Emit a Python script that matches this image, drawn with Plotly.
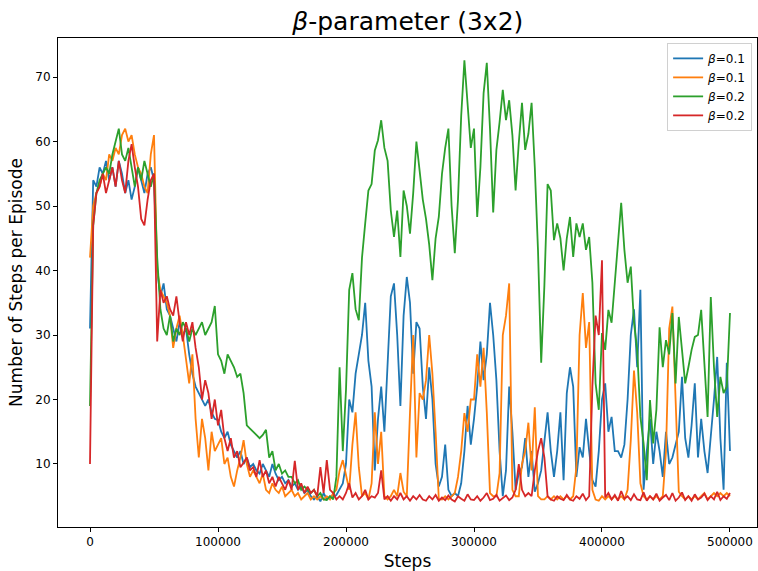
import plotly.graph_objects as go

steps = list(range(0, 500001, 2500))

beta_labels = ["<i>β</i>=0.1", "<i>β</i>=0.1", "<i>β</i>=0.2", "<i>β</i>=0.2"]
colors = ["#1f77b4", "#ff7f0e", "#2ca02c", "#d62728"]

blue = [
    31, 54, 53, 56, 55, 57, 54, 56, 53, 57,
    55, 52, 54, 51, 53, 56, 54, 52, 55, 56,
    54, 40, 36, 38, 34, 33, 31, 29, 32, 30,
    31, 27, 24, 22, 21, 20, 19, 20, 18, 17,
    16.8, 15, 14, 15, 13, 12, 11, 12, 10, 11,
    9.5, 10, 9, 8.5, 10, 9, 8, 10, 8.5, 7.5,
    8, 7, 7.5, 6.5, 7, 6, 6.5, 5.5, 6, 5,
    4.5, 5, 4.2, 5.5, 4.5, 5, 4.8, 5.2, 6, 7,
    10, 20, 18, 24, 27, 30, 35, 26, 22, 9,
    17, 22, 15, 25, 36, 38, 30, 19, 33, 39,
    35, 24, 32, 31, 22, 17, 25, 20, 10, 6.5,
    8, 13, 6, 5, 5.5, 5, 7, 12, 19, 13,
    17, 22, 29, 23, 27, 35, 30, 23, 12, 5,
    9, 22, 15, 6, 8.6, 9.5, 14, 8, 12, 5.7,
    7, 9, 14, 18, 12, 8, 12, 18, 7.5, 21,
    25, 22, 8, 12.6, 11, 17, 12, 7.5, 6.5, 12,
    20, 22.5, 15, 17.3, 12, 12, 11, 13, 20, 30,
    34, 25, 37, 6, 12, 17, 10, 15, 12, 8,
    15, 10, 11, 13, 15, 23.5, 14, 11, 16, 22.5,
    11, 17, 12, 8.6, 14, 20, 26.6, 14, 6, 25.7,
    12,
]

orange = [
    42, 50, 52, 53, 55, 54, 58, 57, 59, 58,
    61, 62, 60, 61, 58, 56, 55, 53, 52, 58,
    61, 40, 37, 36, 35, 33, 28, 31, 33, 30,
    26, 22.5, 27, 17, 11, 17, 14, 9, 15, 12,
    13, 14, 10, 11, 8, 6.5, 9, 11, 13.7, 10,
    8, 9, 8, 7, 8.5, 6, 5.5, 7, 6, 5.5,
    6.5, 5, 5.5, 6, 5, 5.5, 4.5, 5, 5.5, 4.5,
    5, 4.5, 5, 4.5, 5, 4.5, 5.5, 6, 9, 10.6,
    8, 6, 13, 18, 9.5, 5, 5.5, 4.5, 7, 18,
    10, 15, 5, 4.5, 5, 6, 5, 8.6, 5.7, 5,
    18, 30, 11, 21, 20, 23, 30, 24, 15, 4.6,
    4.5, 5, 4.5, 5, 5.5, 8, 12, 17.9, 15, 20,
    20, 27, 22, 28, 18, 5.5, 5, 5, 8.6, 30,
    33, 38, 6, 5, 5, 10, 12, 16.4, 9, 18.8,
    5, 4.5, 4.5, 5, 4.5, 5, 4.5, 5, 4.5, 5,
    4.5, 5, 9.5, 30, 36.5, 28, 32, 6, 4.5, 4.3,
    5, 4.5, 5, 4.5, 5, 4.5, 5, 4.5, 6, 13.7,
    24.5, 18, 7, 5, 4.5, 5, 4.5, 5, 4.5, 5,
    12, 31, 34.4, 20, 5.7, 5, 4.5, 5, 4.5, 5,
    4.5, 5, 5.5, 4.5, 5, 5.5, 5, 5.5, 5, 5.5,
    5,
]

green = [
    19, 47, 52, 54, 55, 56, 55, 58, 60, 62,
    58, 57, 59, 56, 53, 56, 54, 57, 55, 53,
    55, 42, 34, 31, 30, 33, 29, 31, 30, 32,
    31, 29, 31, 30, 31, 32, 30, 31, 32, 34.5,
    27, 26, 24, 27, 26, 25, 23.5, 24, 21, 16,
    15.5, 15, 14.5, 14, 14.5, 15.3, 11, 12, 9, 10,
    8.5, 9, 8, 8, 7, 7.5, 6, 6.5, 6, 5.5,
    6, 5, 5.5, 4.5, 4.4, 5, 4.5, 8, 25, 12,
    21.5, 37, 39.6, 34, 32.3, 42, 47.3, 52.4, 53.4, 58.6,
    60.2, 63.3, 59, 57, 49.3, 45.2, 49.3, 42.1, 52.4, 50,
    45.7, 52, 60, 55, 51, 48, 44, 38.5, 45, 48.3,
    55, 59, 62, 50, 42.7, 51, 64, 72.6, 66, 59,
    62, 48.3, 56, 67.5, 72.2, 62, 49, 58.7, 63, 68,
    63.3, 66.4, 61, 52.4, 59.8, 66, 58.7, 61.2, 66, 56,
    43.2, 25.7, 37.7, 53.4, 52.4, 44.7, 47.3, 45, 40, 45,
    48.3, 42.1, 47.3, 45.2, 47.3, 43.2, 45.2, 38.1, 22.5, 18.4,
    30.3, 27.7, 33.9, 31.9, 38.1, 44.7, 50.5, 43.2, 38.1, 40.6,
    31.9, 27.7, 17.3, 13.2, 7.5, 19.9, 13.2, 18.4, 31.2, 25,
    29.2, 27, 33.4, 22.5, 32.8, 27.7, 22.5, 25, 27.7, 29.7,
    30, 33.9, 25, 17.3, 35.9, 25, 17.3, 23.5, 21, 22,
    33.4,
]

red = [
    10, 47, 52, 53, 55, 52, 54, 56, 53, 57,
    54, 52, 57, 59.6, 56, 53, 48, 47, 51, 54,
    55, 29, 37, 35, 36, 34, 33, 36, 32, 29,
    32, 30, 32, 28, 25, 20, 23, 21, 17, 20,
    16, 18.4, 14, 12, 14, 11, 12, 9.5, 10.2, 11,
    9, 9.5, 8, 10.6, 8, 9, 7, 8, 6.5, 8,
    7, 6, 7.5, 6, 10.5, 6, 7, 5.5, 6.5, 5.5,
    6, 5, 9.5, 5.5, 10.6, 6, 5.5, 4.5, 5, 4.5,
    5.5, 7, 4.8, 5.5, 4.5, 5, 6, 4.5, 5, 4.8,
    5.5, 9, 4.5, 5, 4.3, 5, 4.5, 5.5, 4.5, 5,
    4.3, 5, 4.5, 5.2, 4.5, 4.3, 5, 4.5, 5.2, 4.3,
    4.8, 4.4, 5.1, 4.5, 4.2, 5, 4.6, 4.3, 5.3, 4.5,
    4.4, 5, 4.3, 4.8, 5.5, 4.4, 4.6, 5.2, 4.3, 4.7,
    5.1, 4.4, 4.8, 6, 10, 6, 5, 5.5, 5, 9,
    12, 14, 11, 5, 4.5, 4.3, 5, 4.6, 4.4, 5.2,
    4.5, 4.3, 5, 4.6, 5.4, 4.4, 5, 22, 33, 30,
    41.6, 4.8, 5.5, 4.5, 5.2, 4.3, 5.8, 4.6, 5, 4.4,
    5.3, 4.5, 4.4, 5.6, 4.3, 5, 4.5, 5.4, 4.3, 4.8,
    5.2, 4.4, 5.5, 4.3, 4.8, 5.6, 4.4, 5, 4.3, 5.3,
    4.5, 4.8, 5.4, 4.4, 5, 4.5, 5.7, 4.4, 5, 4.6,
    5.5,
]

x_ticks = [0, 100000, 200000, 300000, 400000, 500000]
x_tick_labels = ["0", "100000", "200000", "300000", "400000", "500000"]
y_ticks = [10, 20, 30, 40, 50, 60, 70]

series = [blue, orange, green, red]

fig = go.Figure()
for vals, name, col in zip(series, beta_labels, colors):
    fig.add_trace(go.Scatter(
        x=steps, y=vals, mode="lines", name=name,
        line=dict(color=col, width=1.8),
    ))

font_family = "DejaVu Sans"
fig.update_layout(
    width=758, height=571,
    margin=dict(l=58, r=1, t=38, b=44),
    paper_bgcolor="white", plot_bgcolor="white",
    font=dict(family=font_family, color="black"),
    title=dict(text="<i>β</i>-parameter (3x2)", x=0.538, xanchor="center",
               y=0.962, yanchor="middle", font=dict(size=25, family=font_family)),
    showlegend=True,
    legend=dict(x=0.993, y=0.99, xanchor="right", yanchor="top",
                bgcolor="rgba(255,255,255,0.9)", bordercolor="#d0d0d0", borderwidth=1,
                font=dict(size=12, family=font_family), tracegroupgap=0),
)
fig.update_xaxes(
    range=[-25000, 521100], tickvals=x_ticks, ticktext=x_tick_labels,
    showline=True, linecolor="black", linewidth=1, mirror=True,
    ticks="outside", ticklen=4, tickcolor="black", showgrid=False, zeroline=False,
    tickfont=dict(size=12),
    title=dict(text="Steps", font=dict(size=17), standoff=6),
)
fig.update_yaxes(
    range=[0.23, 76.05], tickvals=y_ticks,
    showline=True, linecolor="black", linewidth=1, mirror=True,
    ticks="outside", ticklen=4, tickcolor="black", showgrid=False, zeroline=False,
    tickfont=dict(size=12),
    title=dict(text="Number of Steps per Episode", font=dict(size=17), standoff=8),
)

fig.write_html("out.html")
